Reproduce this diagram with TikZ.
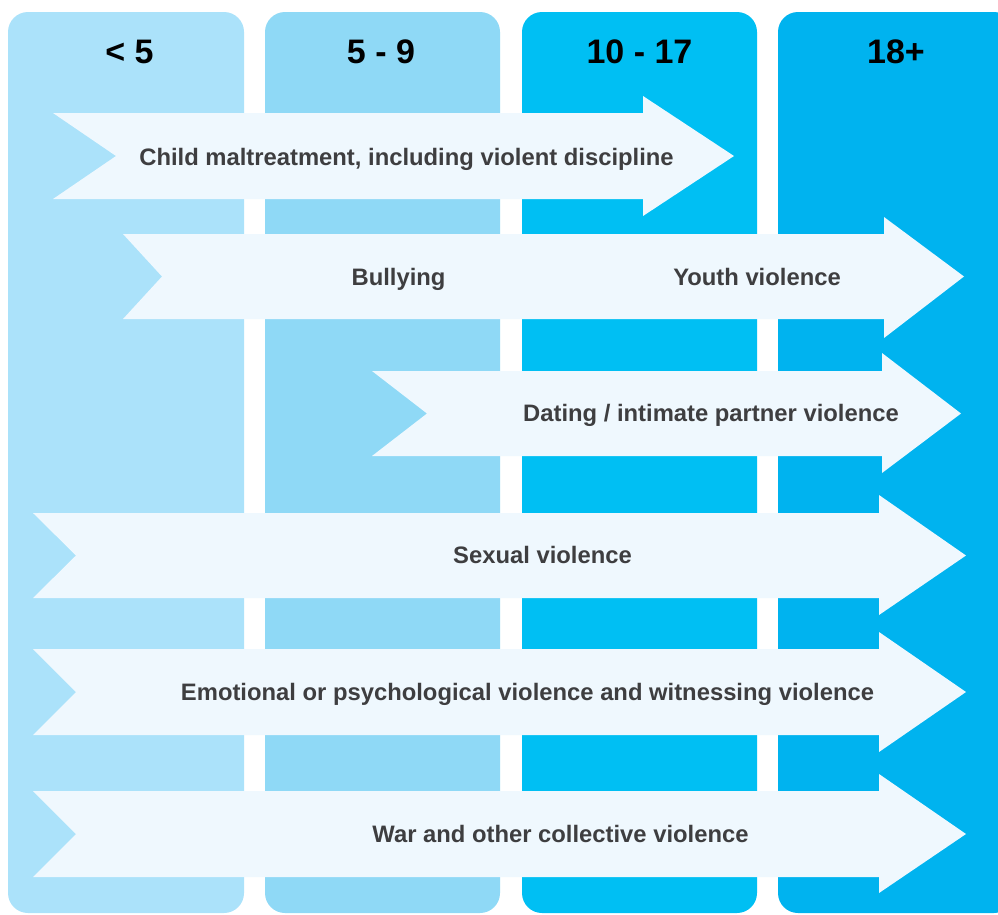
\documentclass[tikz,border=0pt]{standalone}
\usepackage{fontspec}
\setmainfont{Liberation Sans}
\definecolor{colA}{HTML}{ABE2FA}
\definecolor{colB}{HTML}{8FD9F6}
\definecolor{colC}{HTML}{00BFF3}
\definecolor{colD}{HTML}{00B3EF}
\definecolor{arrowfill}{HTML}{EFF8FE}
\definecolor{lblgray}{HTML}{3E3E40}
% L, T, B, N(notch x), H(head x), HT, HB, X(tip x)
\newcommand\mychev[8]{%
  \fill[arrowfill] (#1,#2) -- (#5,#2) -- (#5,#6) -- (#8,{(#2+#3)/2}) -- (#5,#7) -- (#5,#3) -- (#1,#3) -- (#4,{(#2+#3)/2}) -- cycle;}
\begin{document}
\begin{tikzpicture}[x=1pt,y=-1pt,
  colbox/.style={rounded corners=20pt},
  lbl/.style={font=\fontsize{23.8}{28}\selectfont\bfseries, text=lblgray, anchor=base, inner sep=0pt},
  hdr/.style={font=\fontsize{34}{40}\selectfont\bfseries, text=black, inner sep=0pt}]
\useasboundingbox (0,0) rectangle (998,914);
\clip (0,0) rectangle (998,914);
\fill[white] (0,0) rectangle (998,914);
% columns
\fill[colA, colbox] (8,12) rectangle (244,913);
\fill[colB, colbox] (265,12) rectangle (500,913);
\fill[colC, colbox] (522,12) rectangle (757,913);
\fill[colD, colbox] (778,12) rectangle (1014,913);
% headers
\node[hdr] (h1) at (129.5,52) {< 5};
\node[hdr] (h2) at (381,52) {5 - 9};
\node[hdr] (h3) at (639.5,52) {10 - 17};
\node[hdr] (h4) at (896,52) {18+};
% arrows
\mychev{53}{113}{199}{116}{643}{96}{216}{734}
\mychev{123}{234}{319}{162}{884}{217}{338}{964}
\mychev{372}{371}{456}{427}{882}{353}{473}{961}
\mychev{33}{513}{598}{76}{879}{495}{615}{966}
\mychev{33}{649}{735}{76}{879}{632}{752}{966}
\mychev{33}{791}{877}{76}{879}{774}{893}{966}
% labels
\node[lbl] (t1) at (406.5,165) {Child maltreatment, including violent discipline};
\node[lbl] (t2) at (398.5,285.5) {Bullying};
\node[lbl] (t3) at (757,285.5) {Youth violence};
\node[lbl] (t4) at (711,421.5) {Dating / intimate partner violence};
\node[lbl] (t5) at (542.5,563.5) {Sexual violence};
\node[lbl] (t6) at (527.5,700.5) {Emotional or psychological violence and witnessing violence};
\node[lbl] (t7) at (560.5,842.5) {War and other collective violence};
\end{tikzpicture}
\end{document}
